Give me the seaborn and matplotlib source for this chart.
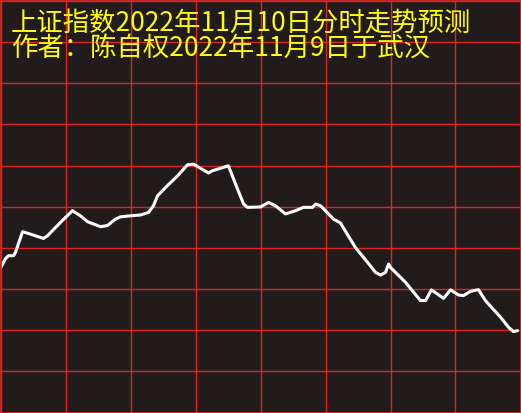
import matplotlib
matplotlib.use("Agg")
import matplotlib.pyplot as plt
import numpy as np
import pandas as pd
import seaborn as sns

# minutes since open (0..240) and predicted change in percent
minutes = [0, 2.3, 3.7, 6.0, 6.9, 10.2, 13.8, 19.8, 21.7, 27.7, 33.2, 36.9, 40.2,
           46.2, 49.4, 53.1, 55.4, 60.0, 64.6, 68.3, 70.6, 72.5, 76.2, 81.7, 86.3,
           89.1, 96.0, 97.8, 105.2, 108.5, 112.2, 114.0, 120.0, 123.7, 126.9, 131.5,
           136.2, 139.8, 144.0, 145.4, 147.7, 153.7, 156.9, 163.8, 169.4, 173.1,
           175.4, 177.7, 179.1, 180.0, 186.9, 193.8, 196.2, 198.9, 204.5, 207.7,
           211.4, 213.7, 216.9, 220.6, 223.8, 230.8, 234.5, 236.8, 238.6]
change_pct = [-0.298, -0.252, -0.238, -0.238, -0.222, -0.121, -0.133, -0.154, -0.141,
              -0.076, -0.019, -0.044, -0.073, -0.097, -0.091, -0.060, -0.049, -0.044,
              -0.040, -0.028, 0.005, 0.053, 0.094, 0.150, 0.204, 0.207, 0.164, 0.175,
              0.199, 0.110, 0.013, -0.003, -0.001, 0.021, 0.005, -0.035, -0.019,
              -0.003, -0.003, 0.013, 0.005, -0.060, -0.079, -0.198, -0.270, -0.319,
              -0.332, -0.319, -0.278, -0.295, -0.367, -0.456, -0.456, -0.404, -0.445,
              -0.404, -0.429, -0.432, -0.411, -0.403, -0.456, -0.537, -0.586, -0.607,
              -0.602]

title_lines = ["上证指数2022年11月10日分时走势预测", "作者：陈自权2022年11月9日于武汉"]

bg = "#211c1b"
grid_red = "#e42222"

sns.set_style("dark", {"axes.facecolor": bg, "figure.facecolor": bg,
                       "axes.edgecolor": grid_red, "grid.color": grid_red})
plt.rcParams["font.family"] = ["Noto Sans CJK SC", "DejaVu Sans"]

df = pd.DataFrame({"minute": minutes, "pct": change_pct})

fig = plt.figure(figsize=(5.21, 4.13), dpi=100)
ax = fig.add_axes([0.5 / 521, 0.5 / 413, 520 / 521, 411.5 / 413])
sns.lineplot(data=df, x="minute", y="pct", ax=ax, color="white", linewidth=2.2)

ax.set_xlim(0, 240)
ax.set_ylim(-1.0, 1.0)
ax.set_xticks(np.arange(0, 241, 30))
ax.set_yticks(np.arange(-1.0, 1.01, 0.2))
ax.grid(True, color=grid_red, linewidth=1.0)
ax.tick_params(length=0, labelbottom=False, labelleft=False)
ax.set_xlabel("")
ax.set_ylabel("")
for s in ax.spines.values():
    s.set_visible(True)
    s.set_color(grid_red)
    s.set_linewidth(1.2)

for i, line in enumerate(title_lines):
    fig.text(11 / 521, 1 - (31 + 25 * i) / 413, line, color="#ffff00",
             fontsize=19, va="baseline", ha="left")

fig.savefig("out.png", dpi=100, facecolor=bg)
